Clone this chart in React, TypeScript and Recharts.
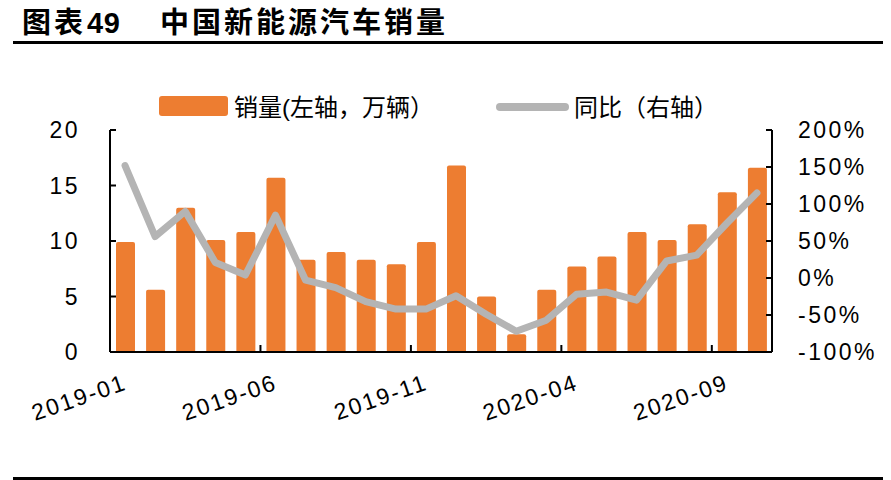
import React from 'react';
import { ComposedChart, Bar, Line, XAxis, YAxis } from 'recharts';

const months = [
  '2019-01', '2019-02', '2019-03', '2019-04', '2019-05', '2019-06',
  '2019-07', '2019-08', '2019-09', '2019-10', '2019-11', '2019-12',
  '2020-01', '2020-02', '2020-03', '2020-04', '2020-05', '2020-06',
  '2020-07', '2020-08', '2020-09', '2020-10',
];
const sales = [9.9, 5.6, 13.0, 10.1, 10.8, 15.7, 8.3, 9.0, 8.3, 7.9, 9.9, 16.8, 5.0, 1.6, 5.6, 7.7, 8.6, 10.8, 10.1, 11.5, 14.4, 16.6];
const yoy = [152, 56, 90, 21, 4, 85, -3, -13, -32, -42, -42, -24, -49, -72, -57, -22, -19, -30, 23, 31, 74, 115];
const leftTicks = [0, 5, 10, 15, 20];
const rightTicks = [-100, -50, 0, 50, 100, 150, 200];

const data = months.map((m, i) => ({ month: m, sales: sales[i], yoy: yoy[i] }));

const W = 891;
const H = 480;
const LEFT_W = 110;
const RIGHT_W = 119;
const TOP = 130;
const XAXIS_H = 128;
const BAND = (W - LEFT_W - RIGHT_W) / months.length;
const FONT = '"Liberation Sans", Arial, sans-serif';
const CJK = '"Liberation Sans", "Noto Sans CJK SC", sans-serif';

const LeftTick = (props: any) => {
  const { x, y, payload } = props;
  return (
    <g>
      <line x1={x} y1={y} x2={x + 6} y2={y} stroke="#000" strokeWidth={2} />
      <text x={x - 30} y={y} dy={8} textAnchor="end" fontSize={23} letterSpacing={2.5} fontFamily={FONT} fill="#000">
        {payload.value}
      </text>
    </g>
  );
};

const RightTick = (props: any) => {
  const { x, y, payload } = props;
  return (
    <g>
      <line x1={x} y1={y} x2={x - 6} y2={y} stroke="#000" strokeWidth={2} />
      <text x={x + 26} y={y} dy={8} textAnchor="start" fontSize={23} letterSpacing={2.5} fontFamily={FONT} fill="#000">
        {payload.value + '%'}
      </text>
    </g>
  );
};

const XTick = (props: any) => {
  const { x, y, payload, index } = props;
  const i = typeof index === 'number' ? index : months.indexOf(payload.value);
  if (i % 5 !== 0) return <g />;
  const bx = x - BAND / 2;
  const tx = x + 3;
  const ty = y + 37;
  return (
    <g>
      {i > 0 && <line x1={bx} y1={y} x2={bx} y2={y - 7} stroke="#000" strokeWidth={2} />}
      <text x={tx} y={ty} textAnchor="end" fontSize={23} letterSpacing={2} fontFamily={FONT} fill="#000" transform={`rotate(-19, ${tx}, ${ty})`}>
        {payload.value}
      </text>
    </g>
  );
};

export default function App() {
  return (
    <div style={{ position: 'absolute', left: 0, top: 0, width: W, height: H, background: '#fff' }}>
      <svg width={W} height={H} style={{ position: 'absolute', left: 0, top: 0 }}>
        <text x={22} y={33} fontSize={29} fontWeight="bold" fontFamily={CJK} letterSpacing={3} fill="#000">图表</text>
        <text x={87} y={33} fontSize={29} fontWeight="bold" fontFamily={CJK} letterSpacing={0.5} fill="#000">49</text>
        <text x={160} y={33} fontSize={29} fontWeight="bold" fontFamily={CJK} letterSpacing={3} fill="#000">中国新能源汽车销量</text>
        <rect x={13} y={41} width={870} height={3} fill="#000" />
        <rect x={13} y={477} width={870} height={3} fill="#000" />
        <rect x={159} y={96} width={69} height={20} rx={3} fill="#ED7D31" />
        <text x={234} y={116} fontSize={24} fontFamily={CJK} fill="#000">销量(左轴，万辆）</text>
        <line x1={500} y1={107} x2={565} y2={107} stroke="#B4B4B4" strokeWidth={8} strokeLinecap="round" />
        <text x={574} y={116} fontSize={24} fontFamily={CJK} fill="#000">同比（右轴）</text>
      </svg>
      <div style={{ position: 'absolute', left: 0, top: 0 }}>
        <ComposedChart width={W} height={H} data={data} margin={{ top: TOP, right: 0, bottom: 0, left: 0 }} barSize={19}>
          <XAxis
            dataKey="month"
            height={XAXIS_H}
            interval={0}
            tickSize={0}
            tickMargin={0}
            tickLine={false}
            axisLine={{ stroke: '#000', strokeWidth: 2 }}
            tick={<XTick />}
          />
          <YAxis
            yAxisId="left"
            width={LEFT_W}
            domain={[0, 20]}
            ticks={leftTicks}
            tickSize={0}
            tickMargin={0}
            tickLine={false}
            axisLine={{ stroke: '#000', strokeWidth: 2 }}
            tick={<LeftTick />}
          />
          <YAxis
            yAxisId="right"
            orientation="right"
            width={RIGHT_W}
            domain={[-100, 200]}
            ticks={rightTicks}
            tickSize={0}
            tickMargin={0}
            tickLine={false}
            axisLine={{ stroke: '#000', strokeWidth: 2 }}
            tick={<RightTick />}
          />
          <Bar yAxisId="left" dataKey="sales" fill="#ED7D31" barSize={19} radius={[2, 2, 0, 0]} isAnimationActive={false} />
          <Line
            yAxisId="right"
            dataKey="yoy"
            type="linear"
            stroke="#B4B4B4"
            strokeWidth={7}
            strokeLinecap="round"
            strokeLinejoin="round"
            dot={false}
            activeDot={false}
            isAnimationActive={false}
          />
        </ComposedChart>
      </div>
    </div>
  );
}
